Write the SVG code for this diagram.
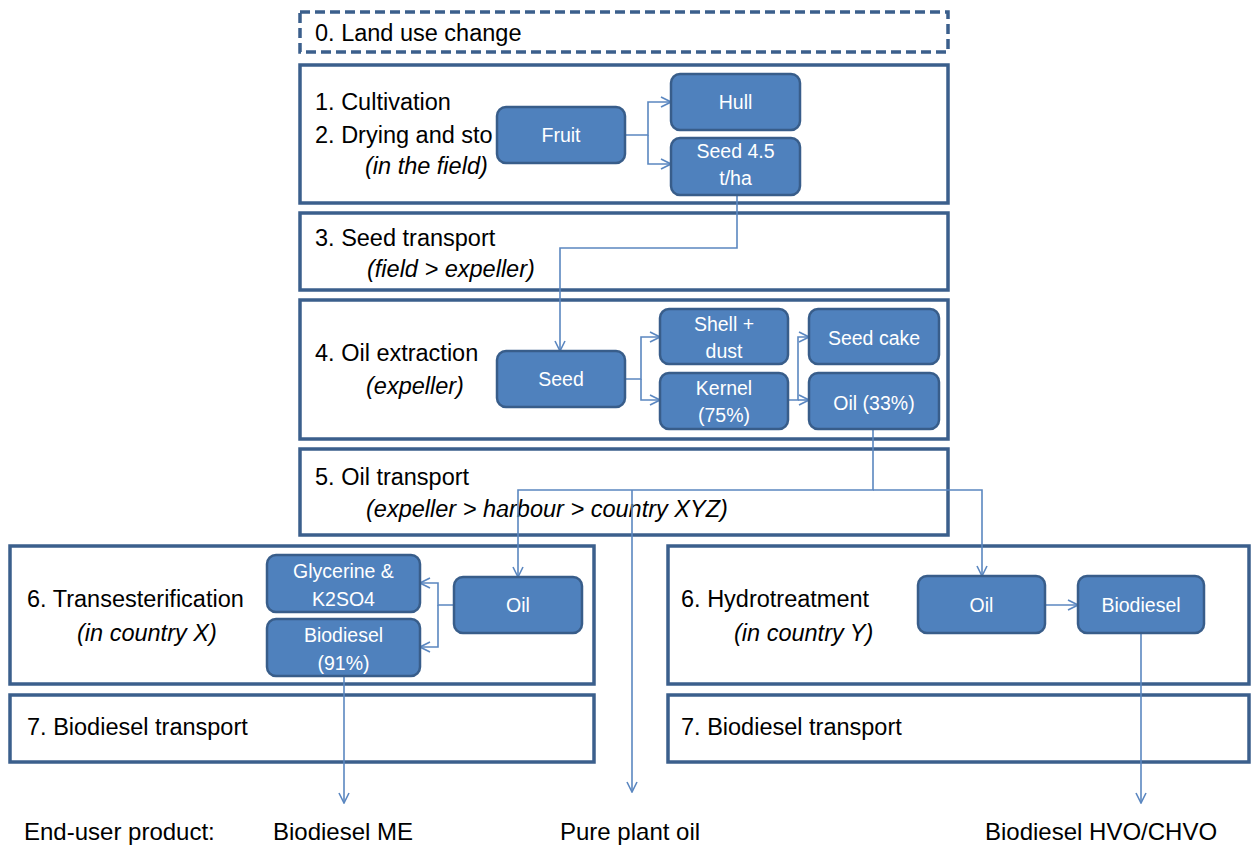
<svg xmlns="http://www.w3.org/2000/svg" width="1252" height="846" viewBox="0 0 1252 846">
<defs>
<style>
.stage{fill:#fff;stroke:#3B5F8C;stroke-width:3.5}
.dash{stroke-dasharray:10 5}
.node{fill:#4F81BD;stroke:#385D8A;stroke-width:2.5}
.h{font-family:"Liberation Sans",Arial,sans-serif;font-size:23.5px;fill:#000}
.p{font-size:24px}
.i{font-style:italic}
.nt{font-family:"Liberation Sans",Arial,sans-serif;font-size:19.5px;fill:#fff;text-anchor:middle}
.c{fill:none;stroke:#5B87C0;stroke-width:1.6}
</style>
<marker id="ah" viewBox="0 0 12 12" refX="11" refY="6" markerWidth="12" markerHeight="12" markerUnits="userSpaceOnUse" orient="auto">
<path d="M1,1 L11,6 L1,11" fill="none" stroke="#5B87C0" stroke-width="1.6"/>
</marker>
</defs>
<rect width="1252" height="846" fill="#fff"/>

<g id="stage0"><rect class="stage dash" x="300" y="12" width="648" height="40"/><text class="h" x="315" y="41">0. Land use change</text></g>
<g id="stage1"><rect class="stage" x="300" y="65" width="648" height="138"/>
<text class="h" x="315" y="110">1. Cultivation</text>
<text class="h" x="315" y="143">2. Drying and sto</text>
<text class="h i" x="365" y="174">(in the field)</text></g>
<g id="stage3"><rect class="stage" x="300" y="213" width="648" height="77"/>
<text class="h" x="315" y="246">3. Seed transport</text>
<text class="h i" x="367" y="277">(field &gt; expeller)</text></g>
<g id="stage4"><rect class="stage" x="300" y="300" width="648" height="139"/>
<text class="h" x="315" y="361">4. Oil extraction</text>
<text class="h i" x="366" y="394">(expeller)</text></g>
<g id="stage5"><rect class="stage" x="300" y="449" width="648" height="86"/>
<text class="h" x="315" y="485">5. Oil transport</text>
<text class="h i" x="366" y="517">(expeller &gt; harbour &gt; country XYZ)</text></g>
<g id="stage6x"><rect class="stage" x="10" y="546" width="584" height="138"/>
<text class="h" x="27" y="607">6. Transesterification</text>
<text class="h i" x="77" y="641">(in country X)</text></g>
<g id="stage7x"><rect class="stage" x="10" y="695" width="584" height="67"/>
<text class="h" x="27" y="735">7. Biodiesel transport</text></g>
<g id="stage6y"><rect class="stage" x="668" y="546" width="581" height="138"/>
<text class="h" x="681" y="607">6. Hydrotreatment</text>
<text class="h i" x="734" y="641">(in country Y)</text></g>
<g id="stage7y"><rect class="stage" x="668" y="695" width="581" height="67"/>
<text class="h" x="681" y="735">7. Biodiesel transport</text></g>

<g id="connectors">
<path class="c" d="M625,135 H648 V102 H671" marker-end="url(#ah)"/>
<path class="c" d="M648,135 V164 H671" marker-end="url(#ah)"/>
<path class="c" d="M737,195 V248 H560 V351" marker-end="url(#ah)"/>
<path class="c" d="M625,379 H641 V337 H660" marker-end="url(#ah)"/>
<path class="c" d="M641,379 V400 H660" marker-end="url(#ah)"/>
<path class="c" d="M788,400 H798 V337 H809" marker-end="url(#ah)"/>
<path class="c" d="M798,400 H809" marker-end="url(#ah)"/>
<path class="c" d="M873,429 V490 H518 V577" marker-end="url(#ah)"/>
<path class="c" d="M873,490 H982 V576" marker-end="url(#ah)"/>
<path class="c" d="M632,490 V792" marker-end="url(#ah)"/>
<path class="c" d="M454,605 H438 V583 H420" marker-end="url(#ah)"/>
<path class="c" d="M438,605 V647 H420" marker-end="url(#ah)"/>
<path class="c" d="M344,676 V803" marker-end="url(#ah)"/>
<path class="c" d="M1045,605 H1078" marker-end="url(#ah)"/>
<path class="c" d="M1141,633 V803" marker-end="url(#ah)"/>
</g>

<g id="fruit"><rect class="node" x="497" y="107" width="128" height="56" rx="9"/><text class="nt" x="561" y="142">Fruit</text></g>
<g id="hull"><rect class="node" x="671" y="74" width="129" height="56" rx="9"/><text class="nt" x="735.5" y="109">Hull</text></g>
<g id="seed45"><rect class="node" x="671" y="138" width="129" height="57" rx="9"/><text class="nt" x="735.5" y="158">Seed 4.5</text><text class="nt" x="735.5" y="185">t/ha</text></g>
<g id="seed"><rect class="node" x="497" y="351" width="128" height="56" rx="9"/><text class="nt" x="561" y="386">Seed</text></g>
<g id="shell"><rect class="node" x="660" y="309" width="128" height="55" rx="9"/><text class="nt" x="724" y="331">Shell +</text><text class="nt" x="724" y="358">dust</text></g>
<g id="kernel"><rect class="node" x="660" y="373" width="128" height="56" rx="9"/><text class="nt" x="724" y="395">Kernel</text><text class="nt" x="724" y="422">(75%)</text></g>
<g id="seedcake"><rect class="node" x="809" y="309" width="130" height="55" rx="9"/><text class="nt" x="874" y="345">Seed cake</text></g>
<g id="oil33"><rect class="node" x="809" y="373" width="130" height="56" rx="9"/><text class="nt" x="874" y="410">Oil (33%)</text></g>
<g id="glycerine"><rect class="node" x="267" y="555" width="153" height="57" rx="9"/><text class="nt" x="343.5" y="578">Glycerine &amp;</text><text class="nt" x="343.5" y="606">K2SO4</text></g>
<g id="biodiesel91"><rect class="node" x="267" y="619" width="153" height="57" rx="9"/><text class="nt" x="343.5" y="642">Biodiesel</text><text class="nt" x="343.5" y="670">(91%)</text></g>
<g id="oilx"><rect class="node" x="454" y="577" width="128" height="56" rx="9"/><text class="nt" x="518" y="612">Oil</text></g>
<g id="oily"><rect class="node" x="918" y="576" width="127" height="57" rx="9"/><text class="nt" x="981.5" y="612">Oil</text></g>
<g id="biodiesely"><rect class="node" x="1078" y="576" width="126" height="57" rx="9"/><text class="nt" x="1141" y="612">Biodiesel</text></g>

<g id="products">
<text class="h p" x="24" y="840">End-user product:</text>
<text class="h p" x="273" y="840">Biodiesel ME</text>
<text class="h p" x="560" y="840">Pure plant oil</text>
<text class="h p" x="985" y="840">Biodiesel HVO/CHVO</text>
</g>
</svg>
